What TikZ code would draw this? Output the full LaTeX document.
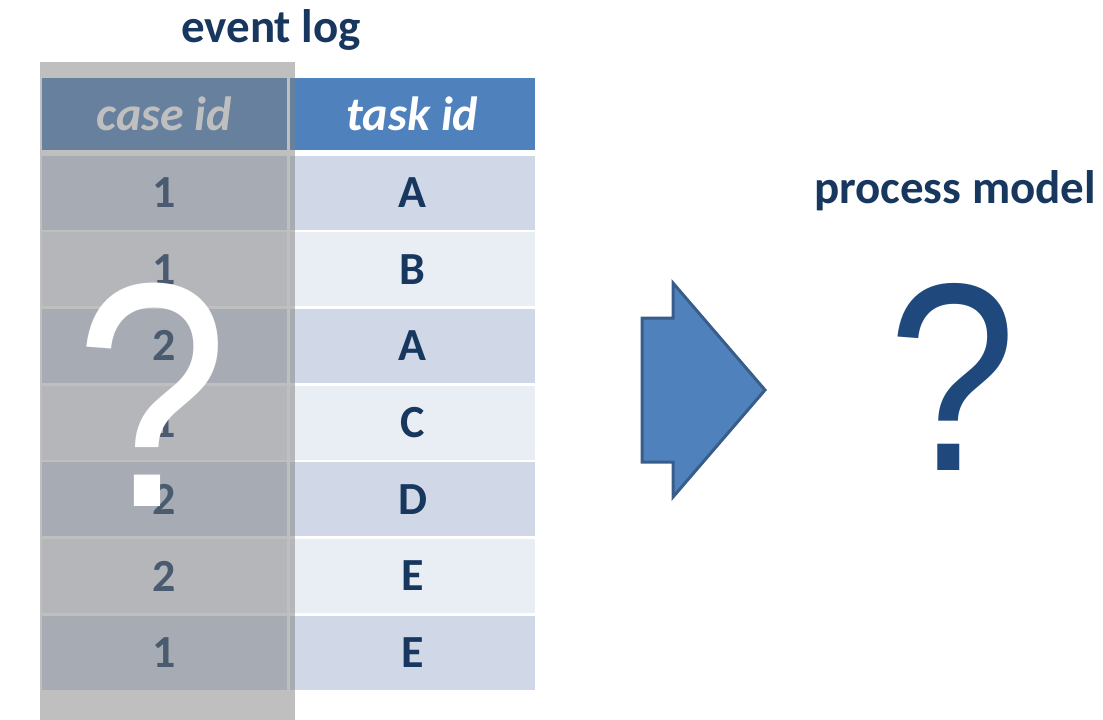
\documentclass[tikz,border=0pt]{standalone}
\usepackage{fontspec}
\setmainfont{Carlito}
\newfontfamily\qmarkfont{Liberation Sans}
\definecolor{hdrblue}{HTML}{4F81BD}
\definecolor{rowdark}{HTML}{D0D8E8}
\definecolor{rowlight}{HTML}{E9EDF4}
\definecolor{inkblue}{HTML}{17375E}
\definecolor{qblue}{HTML}{1F497D}
\definecolor{arrowedge}{HTML}{385D8A}
\tikzset{
  cell/.style={minimum width=245pt, minimum height=74pt, inner sep=0pt, outer sep=0pt,
               font=\fontsize{46}{50}\selectfont\bfseries, text=inkblue},
  hdrcell/.style={cell, minimum height=72pt, fill=hdrblue, text=white,
               font=\fontsize{48}{52}\selectfont\bfseries\itshape},
  title/.style={inner sep=0pt, anchor=base, text=inkblue,
               font=\fontsize{47}{52}\selectfont\bfseries},
  qmark/.style={inner sep=0pt, anchor=base, transform shape, xscale=0.86,
               font=\qmarkfont\fontsize{#1}{#1}\selectfont},
}
\begin{document}
\begin{tikzpicture}[x=1pt, y=-1pt]
\useasboundingbox (0,0) rectangle (1103,720);

% titles
\node[title] (logtitle) at (271,42) {event log};
\node[title] (modeltitle) at (955,203) {process model};

% table header
\node[hdrcell] (hcase) at (164.5,114) {case id};
\node[hdrcell] (htask) at (412.5,114) {task id};

% table body
\foreach [count=\i] \c/\t in {1/A,1/B,2/A,1/C,2/D,2/E,1/E} {
  \pgfmathsetmacro{\yc}{192.5+76.7*(\i-1)}
  \ifodd\i \def\rowfill{rowdark}\else\def\rowfill{rowlight}\fi
  \node[cell, fill=\rowfill] (c\i) at (164.5,\yc) {\c};
  \node[cell, fill=\rowfill] (t\i) at (412.5,\yc) {\t};
}

% translucent veil over the case id column
\fill[gray, opacity=0.5] (40,62) rectangle (295,720);

% unknown case ids
\node[qmark=320, text=white] (qcase) at (152,506) {?};

% discovery arrow
\draw[arrowedge, line width=3pt, fill=hdrblue, line join=miter]
  (642,318) -- (673,318) -- (673,283) -- (765,390) -- (673,497) -- (673,462) -- (642,462) -- cycle;

% unknown process model
\node[qmark=268, text=qblue] (qmodel) at (953,470) {?};
\end{tikzpicture}
\end{document}
